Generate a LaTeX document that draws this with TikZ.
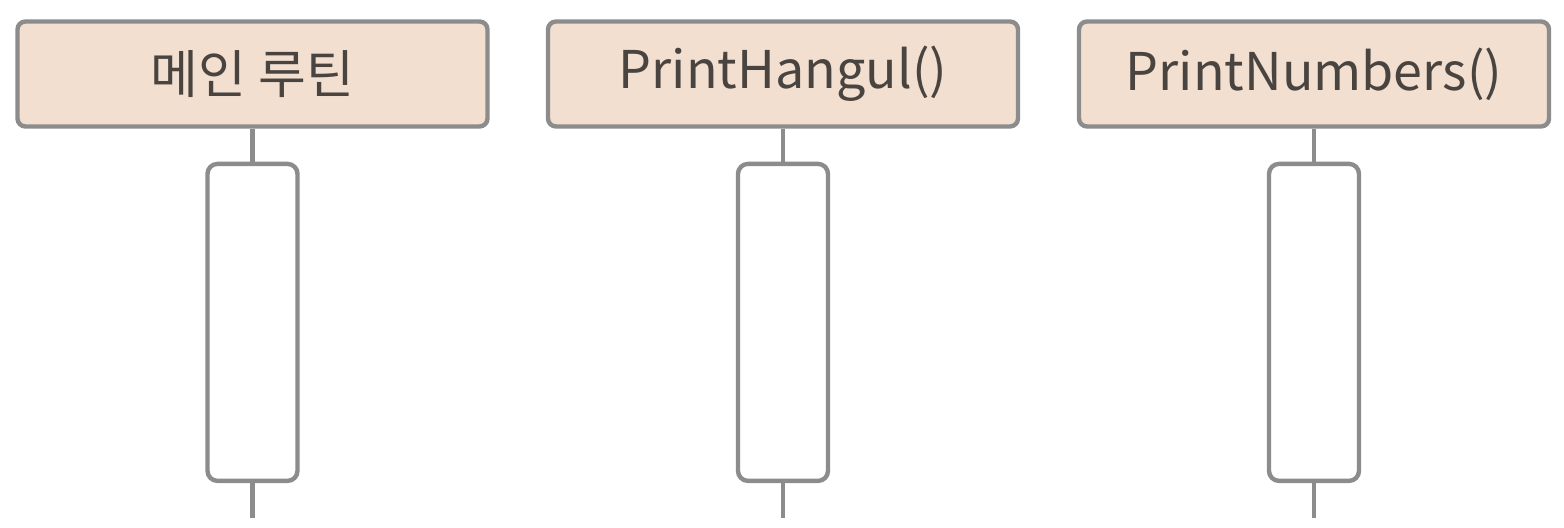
\documentclass[tikz,border=0pt]{standalone}
\usepackage{fontspec}
\setmainfont{Noto Sans CJK KR}
\usepackage{xcolor}
\usetikzlibrary{positioning}

\definecolor{headfill}{HTML}{F2DFD0}
\definecolor{framegray}{HTML}{8C8C8C}
\definecolor{textgray}{HTML}{4A4440}

\begin{document}
\begin{tikzpicture}[
  node distance=16.5pt,
  every node/.style={font=\fontsize{26}{31}\selectfont, text=textgray},
  head/.style={draw=framegray, line width=2.2pt, rounded corners=4pt, fill=headfill, minimum width=235pt, minimum height=52.5pt, inner sep=0pt},
  act/.style={draw=framegray, line width=2.2pt, rounded corners=5pt, fill=white, minimum width=45pt, minimum height=158.5pt, inner sep=0pt},
  life/.style={draw=framegray, line width=2.2pt}
]
\useasboundingbox (0,0) rectangle (782pt,-264pt);

\node[head] (main) at (126.25pt,-37pt) {메인 루틴};
\node[head] (hangul) at (391.5pt,-37pt) {PrintHangul()};
\node[head] (numbers) at (657pt,-37pt) {PrintNumbers()};

\node[act, below=of main] (mainact) {};
\node[act, below=of hangul] (hangulact) {};
\node[act, below=of numbers] (numbersact) {};

\coordinate[below=17.5pt of mainact] (mainend);
\coordinate[below=17.5pt of hangulact] (hangulend);
\coordinate[below=17.5pt of numbersact] (numbersend);

\draw[life] (main) -- (mainact);
\draw[life] (hangul) -- (hangulact);
\draw[life] (numbers) -- (numbersact);
\draw[life] (mainact) -- (mainend);
\draw[life] (hangulact) -- (hangulend);
\draw[life] (numbersact) -- (numbersend);
\end{tikzpicture}
\end{document}
